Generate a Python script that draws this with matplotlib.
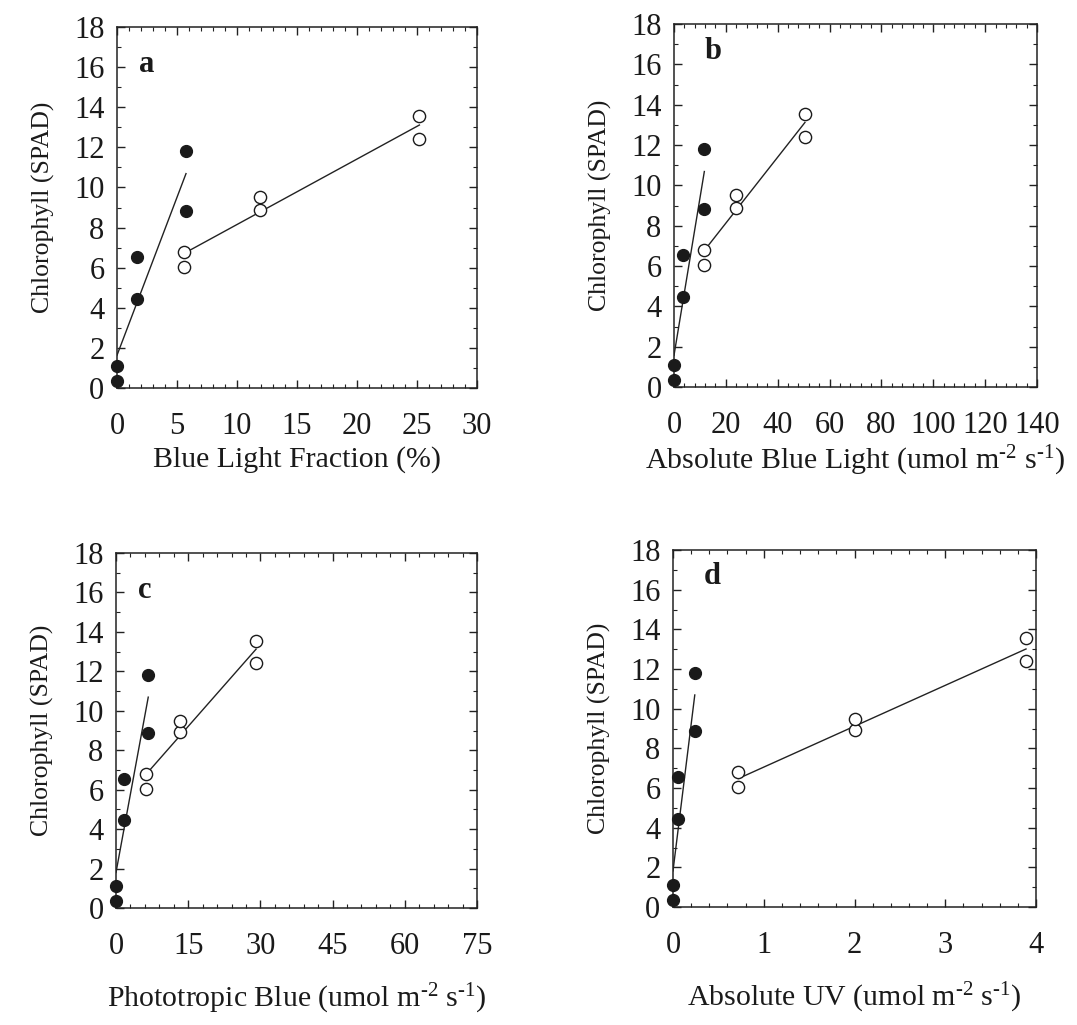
import matplotlib
matplotlib.use('Agg')
import matplotlib.pyplot as plt
import numpy as np
from matplotlib.ticker import MultipleLocator

plt.rcParams['font.family'] = ['Liberation Serif', 'DejaVu Serif']
plt.rcParams['mathtext.fontset'] = 'custom'
plt.rcParams['mathtext.rm'] = 'Liberation Serif'
plt.rcParams['mathtext.it'] = 'Liberation Serif:italic'

# chlorophyll readings (SPAD), same for every panel
y_filled = [0.35, 1.1, 4.45, 6.55, 8.85, 11.8]
y_open = [6.05, 6.8, 8.9, 9.5, 12.4, 13.55]

# x values per panel
x_filled_a = [0, 0, 1.65, 1.65, 5.75, 5.75]
x_open_a = [5.6, 5.6, 11.9, 11.9, 25.2, 25.2]
x_filled_b = [0, 0, 3.5, 3.5, 11.7, 11.7]
x_open_b = [11.5, 11.5, 23.8, 23.8, 50.5, 50.5]
x_filled_c = [0, 0, 1.7, 1.7, 6.7, 6.7]
x_open_c = [6.2, 6.2, 13.2, 13.2, 29.1, 29.1]
x_filled_d = [0, 0, 0.06, 0.06, 0.24, 0.24]
x_open_d = [0.72, 0.72, 2.0, 2.0, 3.89, 3.89]

letters = ['a', 'b', 'c', 'd']
unit = r'(umol m$^{\text{-2}}$ s$^{\text{-1}}$)'
xlabels = ['Blue Light Fraction (%)',
           'Absolute Blue Light ' + unit,
           'Phototropic Blue ' + unit,
           'Absolute UV ' + unit]

W, H = 1077, 1025
fig = plt.figure(figsize=(W / 100, H / 100), dpi=100)

# axes boxes in pixels: left, top, right, bottom
boxes = [(117, 27, 477, 388), (674, 24, 1037, 387),
         (116, 553, 477, 908), (673, 550, 1036, 907)]
xlims = [(0, 30), (0, 140), (0, 75), (0, 4)]
xmajor = [5, 20, 15, 1]
xminor = [1, 4, 3, 0.2]
xlabelpad = [4, 3, 15.5, 15.5]
letter_pos = [(0.062, 0.895), (0.085, 0.925), (0.06, 0.895), (0.085, 0.925)]
panels = [(x_filled_a, x_open_a), (x_filled_b, x_open_b),
          (x_filled_c, x_open_c), (x_filled_d, x_open_d)]

for i, (xf, xo) in enumerate(panels):
    l, t, r, b = boxes[i]
    ax = fig.add_axes([l / W, 1 - b / H, (r - l) / W, (b - t) / H])
    xf = np.array(xf)
    xo = np.array(xo)

    # regression lines
    for xs, ys in ((xf, y_filled), (xo, y_open)):
        p = np.polyfit(xs, ys, 1)
        xx = np.array([xs.min(), xs.max()])
        ax.plot(xx, np.polyval(p, xx), color='#222222', lw=1.0, zorder=2)

    ax.plot(xf, y_filled, 'o', ms=8.5, mfc='#1a1a1a', mec='#1a1a1a', zorder=3, clip_on=False)
    ax.plot(xo, y_open, 'o', ms=8.8, mfc='white', mec='#1a1a1a', mew=1.0, zorder=3, clip_on=False)

    ax.set_xlim(*xlims[i])
    ax.set_ylim(0, 18)
    ax.xaxis.set_major_locator(MultipleLocator(xmajor[i]))
    ax.xaxis.set_minor_locator(MultipleLocator(xminor[i]))
    ax.yaxis.set_major_locator(MultipleLocator(2))
    ax.yaxis.set_minor_locator(MultipleLocator(1))
    ax.tick_params(which='both', direction='in', top=True, right=True,
                   labelsize=22, color='#222222', labelcolor='#1a1a1a')
    ax.tick_params(which='major', length=6, width=1)
    ax.tick_params(which='minor', length=3, width=0.8)
    ax.tick_params(axis='x', which='major', pad=17)
    ax.tick_params(axis='y', which='major', pad=9)
    for s in ax.spines.values():
        s.set_linewidth(1.1)
        s.set_color('#222222')

    ax.set_ylabel('Chlorophyll (SPAD)', fontsize=18.5, labelpad=14, color='#1a1a1a')
    ax.set_xlabel(xlabels[i], fontsize=21.5, labelpad=xlabelpad[i], color='#1a1a1a')
    ax.text(letter_pos[i][0], letter_pos[i][1], letters[i], transform=ax.transAxes,
            fontsize=22, fontweight='bold', ha='left', va='center', color='#1a1a1a')

fig.savefig('out.png', dpi=100)
